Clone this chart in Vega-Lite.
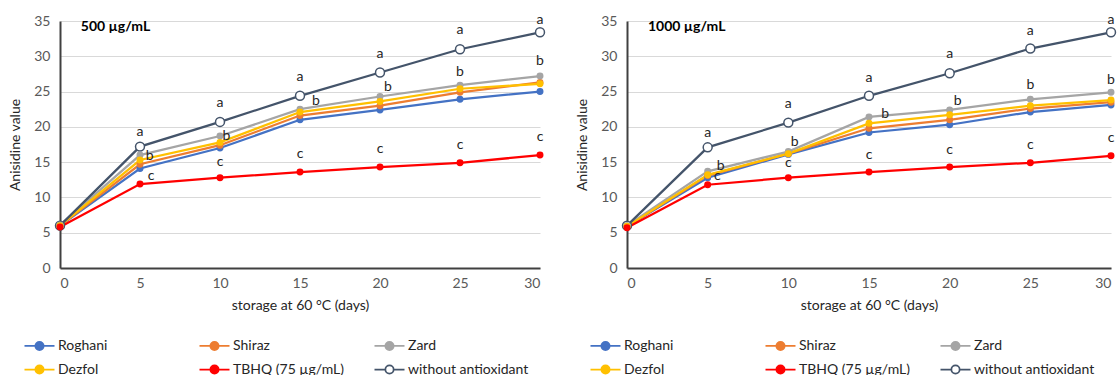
{
  "$schema": "https://vega.github.io/schema/vega-lite/v6.json",
  "background": "white",
  "padding": {"left": 8, "top": 12, "right": 0, "bottom": 0},
  "config": {
    "font": "Lato",
    "view": {"stroke": null},
    "axis": {
      "labelFont": "Lato", "labelFontSize": 14, "labelColor": "#595959",
      "titleFont": "Lato", "titleFontSize": 14, "titleColor": "#262626", "titleFontWeight": "normal",
      "domainColor": "#404040", "domainWidth": 2, "ticks": false,
      "gridColor": "#D9D9D9", "gridWidth": 1
    },
    "legend": {
      "title": null, "orient": "none", "direction": "horizontal", "legendY": 316, "columns": 3, "gridAlign": "all",
      "columnPadding": 17, "rowPadding": 7, "symbolSize": 225,
      "symbolType": "M-2,0L-0.55,0M0.55,0L2,0M0.55,0A0.55,0.55,0,1,1,-0.55,0A0.55,0.55,0,1,1,0.55,0Z",
      "symbolStrokeWidth": 1.75, "symbolOpacity": 1, "labelOffset": 10, "labelFontSize": 14, "labelFont": "Lato", "labelColor": "#262626", "labelLimit": 200
    },
    "concat": {"spacing": 27}
  },
  "datasets": {
    "series": [
      {"panel": "500", "series": "Roghani", "day": 0, "value": 6.0},
      {"panel": "500", "series": "Roghani", "day": 5, "value": 14.1},
      {"panel": "500", "series": "Roghani", "day": 10, "value": 17.0},
      {"panel": "500", "series": "Roghani", "day": 15, "value": 21.0},
      {"panel": "500", "series": "Roghani", "day": 20, "value": 22.4},
      {"panel": "500", "series": "Roghani", "day": 25, "value": 23.9},
      {"panel": "500", "series": "Roghani", "day": 30, "value": 25.0},
      {"panel": "500", "series": "Shiraz", "day": 0, "value": 6.0},
      {"panel": "500", "series": "Shiraz", "day": 5, "value": 14.7},
      {"panel": "500", "series": "Shiraz", "day": 10, "value": 17.4},
      {"panel": "500", "series": "Shiraz", "day": 15, "value": 21.6},
      {"panel": "500", "series": "Shiraz", "day": 20, "value": 23.0},
      {"panel": "500", "series": "Shiraz", "day": 25, "value": 24.9},
      {"panel": "500", "series": "Shiraz", "day": 30, "value": 26.3},
      {"panel": "500", "series": "Zard", "day": 0, "value": 6.1},
      {"panel": "500", "series": "Zard", "day": 5, "value": 16.0},
      {"panel": "500", "series": "Zard", "day": 10, "value": 18.7},
      {"panel": "500", "series": "Zard", "day": 15, "value": 22.5},
      {"panel": "500", "series": "Zard", "day": 20, "value": 24.3},
      {"panel": "500", "series": "Zard", "day": 25, "value": 25.9},
      {"panel": "500", "series": "Zard", "day": 30, "value": 27.2},
      {"panel": "500", "series": "Dezfol", "day": 0, "value": 6.0},
      {"panel": "500", "series": "Dezfol", "day": 5, "value": 15.3},
      {"panel": "500", "series": "Dezfol", "day": 10, "value": 17.8},
      {"panel": "500", "series": "Dezfol", "day": 15, "value": 22.1},
      {"panel": "500", "series": "Dezfol", "day": 20, "value": 23.6},
      {"panel": "500", "series": "Dezfol", "day": 25, "value": 25.4},
      {"panel": "500", "series": "Dezfol", "day": 30, "value": 26.1},
      {"panel": "500", "series": "TBHQ (75 µg/mL)", "day": 0, "value": 5.8},
      {"panel": "500", "series": "TBHQ (75 µg/mL)", "day": 5, "value": 11.9},
      {"panel": "500", "series": "TBHQ (75 µg/mL)", "day": 10, "value": 12.8},
      {"panel": "500", "series": "TBHQ (75 µg/mL)", "day": 15, "value": 13.6},
      {"panel": "500", "series": "TBHQ (75 µg/mL)", "day": 20, "value": 14.3},
      {"panel": "500", "series": "TBHQ (75 µg/mL)", "day": 25, "value": 14.9},
      {"panel": "500", "series": "TBHQ (75 µg/mL)", "day": 30, "value": 16.0},
      {"panel": "500", "series": "without antioxidant", "day": 0, "value": 6.0},
      {"panel": "500", "series": "without antioxidant", "day": 5, "value": 17.2},
      {"panel": "500", "series": "without antioxidant", "day": 10, "value": 20.7},
      {"panel": "500", "series": "without antioxidant", "day": 15, "value": 24.4},
      {"panel": "500", "series": "without antioxidant", "day": 20, "value": 27.7},
      {"panel": "500", "series": "without antioxidant", "day": 25, "value": 31.0},
      {"panel": "500", "series": "without antioxidant", "day": 30, "value": 33.4},
      {"panel": "1000", "series": "Roghani", "day": 0, "value": 5.9},
      {"panel": "1000", "series": "Roghani", "day": 5, "value": 12.8},
      {"panel": "1000", "series": "Roghani", "day": 10, "value": 16.1},
      {"panel": "1000", "series": "Roghani", "day": 15, "value": 19.2},
      {"panel": "1000", "series": "Roghani", "day": 20, "value": 20.3},
      {"panel": "1000", "series": "Roghani", "day": 25, "value": 22.1},
      {"panel": "1000", "series": "Roghani", "day": 30, "value": 23.1},
      {"panel": "1000", "series": "Shiraz", "day": 0, "value": 5.9},
      {"panel": "1000", "series": "Shiraz", "day": 5, "value": 13.1},
      {"panel": "1000", "series": "Shiraz", "day": 10, "value": 16.2},
      {"panel": "1000", "series": "Shiraz", "day": 15, "value": 19.8},
      {"panel": "1000", "series": "Shiraz", "day": 20, "value": 21.0},
      {"panel": "1000", "series": "Shiraz", "day": 25, "value": 22.6},
      {"panel": "1000", "series": "Shiraz", "day": 30, "value": 23.5},
      {"panel": "1000", "series": "Zard", "day": 0, "value": 6.0},
      {"panel": "1000", "series": "Zard", "day": 5, "value": 13.7},
      {"panel": "1000", "series": "Zard", "day": 10, "value": 16.5},
      {"panel": "1000", "series": "Zard", "day": 15, "value": 21.4},
      {"panel": "1000", "series": "Zard", "day": 20, "value": 22.4},
      {"panel": "1000", "series": "Zard", "day": 25, "value": 23.9},
      {"panel": "1000", "series": "Zard", "day": 30, "value": 24.9},
      {"panel": "1000", "series": "Dezfol", "day": 0, "value": 5.9},
      {"panel": "1000", "series": "Dezfol", "day": 5, "value": 13.2},
      {"panel": "1000", "series": "Dezfol", "day": 10, "value": 16.2},
      {"panel": "1000", "series": "Dezfol", "day": 15, "value": 20.5},
      {"panel": "1000", "series": "Dezfol", "day": 20, "value": 21.7},
      {"panel": "1000", "series": "Dezfol", "day": 25, "value": 23.0},
      {"panel": "1000", "series": "Dezfol", "day": 30, "value": 23.8},
      {"panel": "1000", "series": "TBHQ (75 µg/mL)", "day": 0, "value": 5.7},
      {"panel": "1000", "series": "TBHQ (75 µg/mL)", "day": 5, "value": 11.8},
      {"panel": "1000", "series": "TBHQ (75 µg/mL)", "day": 10, "value": 12.8},
      {"panel": "1000", "series": "TBHQ (75 µg/mL)", "day": 15, "value": 13.6},
      {"panel": "1000", "series": "TBHQ (75 µg/mL)", "day": 20, "value": 14.3},
      {"panel": "1000", "series": "TBHQ (75 µg/mL)", "day": 25, "value": 14.9},
      {"panel": "1000", "series": "TBHQ (75 µg/mL)", "day": 30, "value": 15.9},
      {"panel": "1000", "series": "without antioxidant", "day": 0, "value": 6.0},
      {"panel": "1000", "series": "without antioxidant", "day": 5, "value": 17.1},
      {"panel": "1000", "series": "without antioxidant", "day": 10, "value": 20.6},
      {"panel": "1000", "series": "without antioxidant", "day": 15, "value": 24.4},
      {"panel": "1000", "series": "without antioxidant", "day": 20, "value": 27.6},
      {"panel": "1000", "series": "without antioxidant", "day": 25, "value": 31.1},
      {"panel": "1000", "series": "without antioxidant", "day": 30, "value": 33.4}
    ],
    "letters": [
      {"panel": "500", "label": "a", "day": 5, "value": 19.3},
      {"panel": "500", "label": "a", "day": 10, "value": 23.4},
      {"panel": "500", "label": "a", "day": 15, "value": 27.0},
      {"panel": "500", "label": "a", "day": 20, "value": 30.3},
      {"panel": "500", "label": "a", "day": 25, "value": 33.7},
      {"panel": "500", "label": "a", "day": 30, "value": 35.2},
      {"panel": "500", "label": "b", "day": 5.6, "value": 15.9},
      {"panel": "500", "label": "b", "day": 10.4, "value": 18.7},
      {"panel": "500", "label": "b", "day": 16.0, "value": 23.6},
      {"panel": "500", "label": "b", "day": 20.5, "value": 25.7},
      {"panel": "500", "label": "b", "day": 25, "value": 27.8},
      {"panel": "500", "label": "b", "day": 30, "value": 29.3},
      {"panel": "500", "label": "c", "day": 5.7, "value": 13.0},
      {"panel": "500", "label": "c", "day": 10, "value": 15.0},
      {"panel": "500", "label": "c", "day": 15, "value": 16.2},
      {"panel": "500", "label": "c", "day": 20, "value": 16.9},
      {"panel": "500", "label": "c", "day": 25, "value": 17.5},
      {"panel": "500", "label": "c", "day": 30, "value": 18.6},
      {"panel": "1000", "label": "a", "day": 5, "value": 19.2},
      {"panel": "1000", "label": "a", "day": 10, "value": 23.2},
      {"panel": "1000", "label": "a", "day": 15, "value": 26.9},
      {"panel": "1000", "label": "a", "day": 20, "value": 30.3},
      {"panel": "1000", "label": "a", "day": 25, "value": 33.6},
      {"panel": "1000", "label": "a", "day": 30, "value": 35.1},
      {"panel": "1000", "label": "b", "day": 5.8, "value": 14.5},
      {"panel": "1000", "label": "b", "day": 10.4, "value": 17.8},
      {"panel": "1000", "label": "b", "day": 16.0, "value": 21.8},
      {"panel": "1000", "label": "b", "day": 20.5, "value": 23.7},
      {"panel": "1000", "label": "b", "day": 25, "value": 25.9},
      {"panel": "1000", "label": "b", "day": 30, "value": 26.6},
      {"panel": "1000", "label": "c", "day": 5.6, "value": 13.0},
      {"panel": "1000", "label": "c", "day": 10, "value": 14.9},
      {"panel": "1000", "label": "c", "day": 15, "value": 16.0},
      {"panel": "1000", "label": "c", "day": 20, "value": 16.7},
      {"panel": "1000", "label": "c", "day": 25, "value": 17.4},
      {"panel": "1000", "label": "c", "day": 30, "value": 18.4}
    ],
    "titles": [
      {"panel": "500", "label": "500 µg/mL", "day": 1.3, "value": 34.2},
      {"panel": "1000", "label": "1000 µg/mL", "day": 1.3, "value": 34.2}
    ]
  },
  "resolve": {"legend": {"stroke": "independent", "fill": "independent"}},
  "hconcat": [
    {
      "width": 480, "height": 247,
      "layer": [
        {
          "data": {"name": "series"},
          "transform": [{"filter": "datum.panel === '500'"}],
          "mark": {"type": "line", "strokeWidth": 2.25},
          "encoding": {
            "x": {"field": "day", "type": "quantitative", "scale": {"domain": [0, 30], "nice": false}, "axis": {"values": [0, 5, 10, 15, 20, 25, 30], "tickCount": 10, "grid": false, "labelPadding": 8, "title": "storage at 60 °C (days)", "titlePadding": 8}},
            "y": {"field": "value", "type": "quantitative", "scale": {"domain": [0, 35], "nice": false}, "axis": {"values": [0, 5, 10, 15, 20, 25, 30, 35], "tickCount": 10, "labelPadding": 10, "title": "Anisidine value", "titleX": -45, "titleBaseline": "middle"}},
            "stroke": {
              "field": "series", "type": "nominal",
              "scale": {"domain": ["Roghani", "Shiraz", "Zard", "Dezfol", "TBHQ (75 µg/mL)", "without antioxidant"], "range": ["#4472C4", "#ED7D31", "#A5A5A5", "#FFC000", "#FF0000", "#44546A"]},
              "legend": {"legendX": -29}
            }
          }
        },
        {
          "data": {"name": "series"},
          "transform": [{"filter": "datum.panel === '500' && datum.series === 'without antioxidant'"}],
          "mark": {"type": "point", "filled": true, "size": 80, "strokeWidth": 1.5, "opacity": 1},
          "encoding": {
            "x": {"field": "day", "type": "quantitative"},
            "y": {"field": "value", "type": "quantitative"},
            "stroke": {"field": "series", "type": "nominal"},
            "fill": {
              "field": "series", "type": "nominal",
              "scale": {"domain": ["Roghani", "Shiraz", "Zard", "Dezfol", "TBHQ (75 µg/mL)", "without antioxidant"], "range": ["#4472C4", "#ED7D31", "#A5A5A5", "#FFC000", "#FF0000", "#FFFFFF"]},
              "legend": {"legendX": -29}
            }
          }
        },
        {
          "data": {"name": "series"},
          "transform": [{"filter": "datum.panel === '500' && datum.series !== 'without antioxidant'"}],
          "mark": {"type": "point", "filled": true, "size": 30, "strokeWidth": 1.5, "opacity": 1},
          "encoding": {
            "x": {"field": "day", "type": "quantitative"},
            "y": {"field": "value", "type": "quantitative"},
            "stroke": {"field": "series", "type": "nominal"},
            "fill": {"field": "series", "type": "nominal"}
          }
        },
        {
          "data": {"name": "letters"},
          "transform": [{"filter": "datum.panel === '500'"}],
          "mark": {"type": "text", "fontSize": 14, "color": "#262626", "font": "Lato"},
          "encoding": {
            "x": {"field": "day", "type": "quantitative"},
            "y": {"field": "value", "type": "quantitative"},
            "text": {"field": "label"}
          }
        },
        {
          "data": {"name": "titles"},
          "transform": [{"filter": "datum.panel === '500'"}],
          "mark": {"type": "text", "fontSize": 14, "fontWeight": "bold", "align": "left", "color": "#000000", "font": "Lato"},
          "encoding": {
            "x": {"field": "day", "type": "quantitative"},
            "y": {"field": "value", "type": "quantitative"},
            "text": {"field": "label"}
          }
        }
      ]
    },
    {
      "width": 484, "height": 247,
      "layer": [
        {
          "data": {"name": "series"},
          "transform": [{"filter": "datum.panel === '1000'"}],
          "mark": {"type": "line", "strokeWidth": 2.25},
          "encoding": {
            "x": {"field": "day", "type": "quantitative", "scale": {"domain": [0, 30], "nice": false}, "axis": {"values": [0, 5, 10, 15, 20, 25, 30], "tickCount": 10, "grid": false, "labelPadding": 8, "title": "storage at 60 °C (days)", "titlePadding": 8}},
            "y": {"field": "value", "type": "quantitative", "scale": {"domain": [0, 35], "nice": false}, "axis": {"values": [0, 5, 10, 15, 20, 25, 30, 35], "tickCount": 10, "labelPadding": 10, "title": "Anisidine value", "titleX": -45, "titleBaseline": "middle"}},
            "stroke": {
              "field": "series", "type": "nominal",
              "scale": {"domain": ["Roghani", "Shiraz", "Zard", "Dezfol", "TBHQ (75 µg/mL)", "without antioxidant"], "range": ["#4472C4", "#ED7D31", "#A5A5A5", "#FFC000", "#FF0000", "#44546A"]},
              "legend": {"legendX": -30}
            }
          }
        },
        {
          "data": {"name": "series"},
          "transform": [{"filter": "datum.panel === '1000' && datum.series === 'without antioxidant'"}],
          "mark": {"type": "point", "filled": true, "size": 80, "strokeWidth": 1.5, "opacity": 1},
          "encoding": {
            "x": {"field": "day", "type": "quantitative"},
            "y": {"field": "value", "type": "quantitative"},
            "stroke": {"field": "series", "type": "nominal"},
            "fill": {
              "field": "series", "type": "nominal",
              "scale": {"domain": ["Roghani", "Shiraz", "Zard", "Dezfol", "TBHQ (75 µg/mL)", "without antioxidant"], "range": ["#4472C4", "#ED7D31", "#A5A5A5", "#FFC000", "#FF0000", "#FFFFFF"]},
              "legend": {"legendX": -30}
            }
          }
        },
        {
          "data": {"name": "series"},
          "transform": [{"filter": "datum.panel === '1000' && datum.series !== 'without antioxidant'"}],
          "mark": {"type": "point", "filled": true, "size": 30, "strokeWidth": 1.5, "opacity": 1},
          "encoding": {
            "x": {"field": "day", "type": "quantitative"},
            "y": {"field": "value", "type": "quantitative"},
            "stroke": {"field": "series", "type": "nominal"},
            "fill": {"field": "series", "type": "nominal"}
          }
        },
        {
          "data": {"name": "letters"},
          "transform": [{"filter": "datum.panel === '1000'"}],
          "mark": {"type": "text", "fontSize": 14, "color": "#262626", "font": "Lato"},
          "encoding": {
            "x": {"field": "day", "type": "quantitative"},
            "y": {"field": "value", "type": "quantitative"},
            "text": {"field": "label"}
          }
        },
        {
          "data": {"name": "titles"},
          "transform": [{"filter": "datum.panel === '1000'"}],
          "mark": {"type": "text", "fontSize": 14, "fontWeight": "bold", "align": "left", "color": "#000000", "font": "Lato"},
          "encoding": {
            "x": {"field": "day", "type": "quantitative"},
            "y": {"field": "value", "type": "quantitative"},
            "text": {"field": "label"}
          }
        }
      ]
    }
  ]
}
